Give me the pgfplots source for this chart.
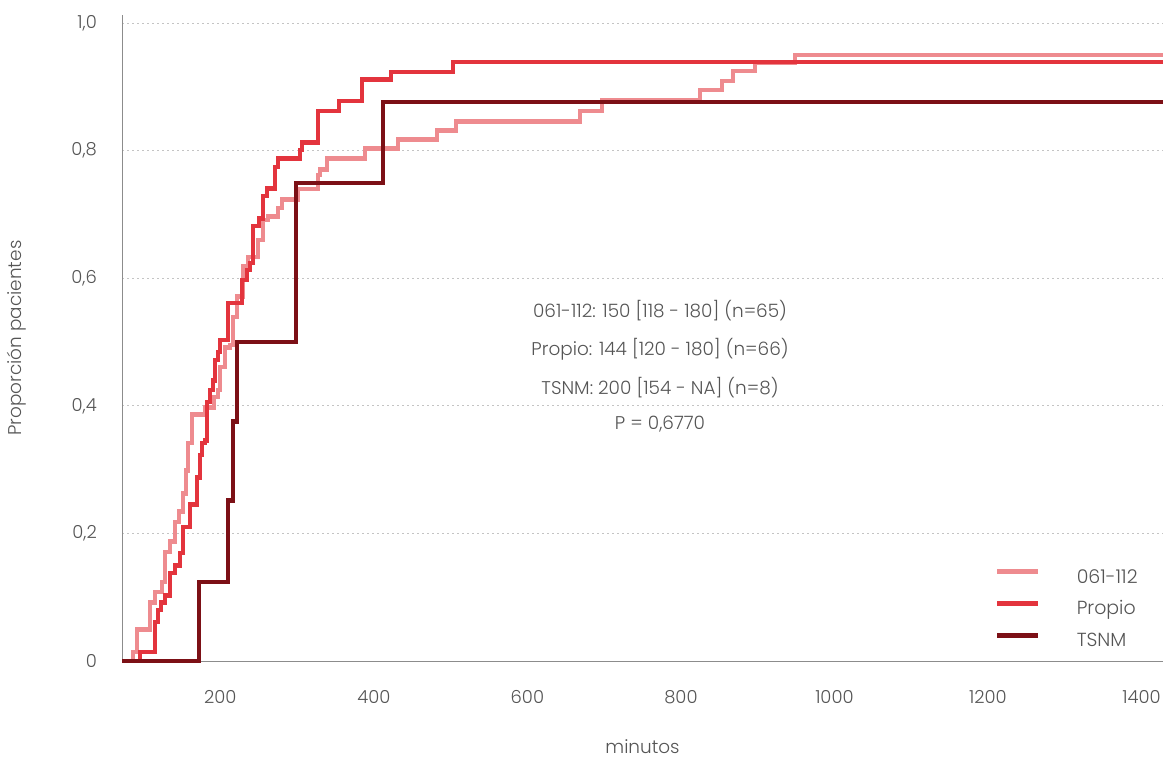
\documentclass[border=0pt]{standalone}
\usepackage{fontspec}
\setmainfont{Poppins Light}
\usepackage{pgfplots}
\pgfplotsset{compat=1.18}
\definecolor{cpink}{HTML}{EE8B8F}
\definecolor{cred}{HTML}{E3343D}
\definecolor{cdark}{HTML}{7C1016}
\definecolor{txtgray}{HTML}{555555}
\definecolor{axgray}{HTML}{8C8C8C}
\definecolor{grgray}{HTML}{C4C4C4}
\begin{document}
\begin{tikzpicture}
\begin{axis}[
  scale only axis, width=1041bp, height=646bp,
  xmin=71.95, xmax=1428, ymin=0, ymax=1.0125,
  clip=false,
  axis x line=bottom, axis y line=left,
  axis line style={-, draw=axgray, line width=1bp},
  xtick={200,400,600,800,1000,1200,1400},
  xticklabels={200,400,600,800,1000,1200,1400},
  ytick={0,0.2,0.4,0.6,0.8,1.0},
  yticklabels={0,{0,2},{0,4},{0,6},{0,8},{1,0}},
  major tick length=0pt,
  ymajorgrids,
  grid style={draw=grgray, dash pattern=on 2bp off 3bp, line width=0.9bp},
  tick label style={font=\fontsize{18}{21}\selectfont, text=txtgray},
  xticklabel style={anchor=center, yshift=-36bp},
  yticklabel style={anchor=east, inner xsep=0pt, xshift=-25bp},
  xlabel={minutos},
  ylabel={Proporción pacientes},
  label style={font=\fontsize{18.5}{21}\selectfont, text=txtgray, inner sep=0pt},
  xlabel style={at={(axis description cs:0.5,-0.132)}, anchor=center},
  ylabel style={at={(axis description cs:-0.101,0.5)}, anchor=center, rotate=0},
  legend style={at={(rel axis cs:0.8386,0.1424)}, anchor=north west,
    draw=none, fill=none, inner sep=0pt, row sep=14bp,
    nodes={inner sep=0pt, text height=13.5bp, text depth=4bp},
    /tikz/every odd column/.append style={column sep=36bp},
    font=\fontsize{19}{22}\selectfont, text=txtgray},
  legend cell align=left,
  legend image code/.code={\draw[#1] (0bp,6.8bp) -- (41bp,6.8bp);},
]
\addplot[const plot, color=cpink, line width=4.6bp] coordinates {
(71.95,0) (86.3,0.014) (91.5,0.049) (108.4,0.092) (114.9,0.108) (124.1,0.124)
(128.0,0.171) (134.5,0.187) (141.0,0.218) (146.2,0.234) (151.4,0.263) (155.3,0.299)
(157.9,0.342) (163.1,0.386) (180.1,0.397) (191.8,0.414) (197.0,0.425) (199.6,0.461)
(206.1,0.491) (212.6,0.495) (216.5,0.539) (221.8,0.571) (229.6,0.618) (236.1,0.633)
(249.1,0.660) (255.6,0.691) (262.1,0.697) (275.2,0.710) (280.4,0.723) (301.2,0.740)
(327.3,0.762) (329.9,0.770) (339.0,0.788) (388.5,0.803) (431.5,0.817) (482.3,0.831)
(507.0,0.846) (668.6,0.862) (697.2,0.879) (824.9,0.895) (853.5,0.909) (867.9,0.925)
(896.5,0.937) (948.6,0.950) (1428,0.952)
};
\addlegendentry{061-112}
\addplot[const plot, color=cred, line width=4.6bp] coordinates {
(71.95,0) (95.4,0.014) (114.9,0.061) (118.8,0.080) (122.8,0.092) (128.0,0.103)
(134.5,0.138) (141.0,0.150) (147.5,0.169) (151.4,0.210) (160.5,0.245) (169.6,0.288)
(173.6,0.323) (176.2,0.342) (180.1,0.346) (182.7,0.406) (186.6,0.425) (190.5,0.440)
(193.1,0.472) (197.0,0.484) (199.6,0.503) (210.0,0.561) (228.3,0.597) (234.8,0.613)
(238.7,0.624) (242.6,0.682) (250.4,0.694) (255.6,0.729) (260.8,0.741) (271.3,0.774)
(275.2,0.788) (303.8,0.801) (306.4,0.813) (327.3,0.862) (354.6,0.878) (384.6,0.911)
(422.4,0.923) (503.1,0.939) (1428,0.939)
};
\addlegendentry{Propio}
\addplot[const plot, color=cdark, line width=4.6bp] coordinates {
(71.95,0) (172.3,0.124) (210.0,0.252) (216.5,0.375) (221.8,0.500) (298.6,0.749)
(411.9,0.876) (1428,0.876)
};
\addlegendentry{TSNM}
\begin{scope}[font=\fontsize{18.5}{21}\selectfont, text=txtgray]
\node at (axis cs:772.8,0.549) {061-112: 150 [118 - 180] (n=65)};
\node at (axis cs:772.8,0.489) {Propio: 144 [120 - 180] (n=66)};
\node at (axis cs:772.8,0.429) {TSNM: 200 [154 - NA] (n=8)};
\node at (axis cs:772.8,0.371) {P = 0,6770};
\end{scope}
\end{axis}
\pgfresetboundingbox
\path[use as bounding box] ([xshift=-122bp,yshift=-99bp]current axis.south west) rectangle ([yshift=15bp]current axis.north east);
\end{tikzpicture}
\end{document}
